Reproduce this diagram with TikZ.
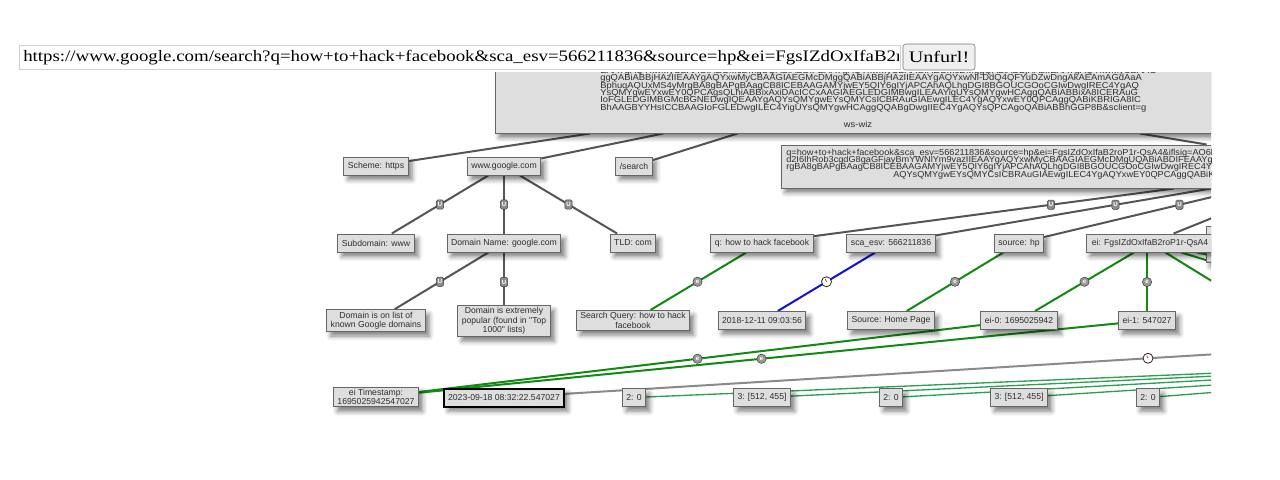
\documentclass[tikz,border=0pt]{standalone}
\usepackage{fontspec}
\setmainfont{Liberation Serif}
\newfontfamily\arialf{Liberation Sans}
\newfontfamily\bigboxf[FakeStretch=1.085]{Liberation Sans}
\newfontfamily\qboxf[FakeStretch=1.06]{Liberation Sans}
\newfontfamily\urlf[FakeStretch=1.18]{Liberation Serif}
\newfontfamily\btnf[FakeStretch=1.26]{Liberation Serif}
\usetikzlibrary{shadows,shadows.blur,calc}
\pgfdeclarelayer{edges}
\pgfsetlayers{edges,main}
\definecolor{nodefill}{HTML}{DEDEDE}
\definecolor{nodeborder}{HTML}{666666}
\definecolor{nodetext}{HTML}{2E2E2E}
\definecolor{edgegray}{HTML}{555555}
\definecolor{edgelight}{HTML}{8A8A8A}
\definecolor{edgegreen}{HTML}{118A11}
\definecolor{edgeblue}{HTML}{1010E0}
\definecolor{thingreen}{HTML}{2E9E55}
\definecolor{btnfill}{HTML}{EFEFEF}
\definecolor{btnborder}{HTML}{767676}
\definecolor{inputborder}{HTML}{D0D0D0}
\newcommand\nodefont{\arialf\fontsize{6.5}{7}\selectfont}
\tikzset{
  nd/.style={draw=nodeborder, line width=0.75pt, fill=nodefill, text=nodetext,
    font=\nodefont, align=center, inner xsep=3pt, inner ysep=1.6pt,
    minimum height=13.5pt,
    blur shadow={shadow xshift=3pt, shadow yshift=-3.5pt, shadow blur radius=3.5pt, shadow opacity=50}},
  sel/.style={draw=black, line width=1.5pt},
  bigtxt/.style={font=\bigboxf\fontsize{6.5}{7}\selectfont, text=nodetext, inner sep=0pt, anchor=base west},
  qtxt/.style={font=\qboxf\fontsize{6.5}{7}\selectfont, text=nodetext, inner sep=0pt, anchor=base west},
  ge/.style={draw=edgegray, line width=1.5pt},
  le/.style={draw=edgelight, line width=1.5pt},
  gne/.style={draw=edgegreen, line width=1.5pt},
  be/.style={draw=edgeblue, line width=1.5pt},
  tge/.style={draw=thingreen, line width=1pt},
  ulab/.style={draw=black!75, fill=black!45, text=white,
    font=\arialf\fontsize{4.5}{4.5}\selectfont\bfseries, rounded corners=1.2pt,
    inner sep=0pt, minimum width=5.5pt, minimum height=7pt},
  elab/.style={circle, draw=black!75, fill=black!40, text=white,
    font=\arialf\fontsize{4.5}{4.5}\selectfont\bfseries, inner sep=0pt, minimum size=7pt},
  clab/.style={circle, draw=black!85, fill=white, inner sep=0pt, minimum size=7.5pt, line width=0.6pt},
  hand/.style={draw=red, line width=0.5pt}
}
\begin{document}
\begin{tikzpicture}[x=0.75pt,y=-0.75pt]
\useasboundingbox (0,0) rectangle (1280,479);

% URL bar
\node[draw=inputborder, fill=white, minimum width=660.75pt, minimum height=18pt,
  anchor=north west, inner sep=0pt] (input) at (19,45) {};
\begin{scope}
\clip (21,46) rectangle (898,68);
\node[anchor=west, font=\urlf\fontsize{12}{14}\selectfont, inner sep=0pt] (url) at (23,57.5)
  {https://www.google.com/search?q=how+to+hack+facebook\&sca\_esv=566211836\&source=hp\&ei=FgsIZdOxIfaB2ro};
\end{scope}
\node[draw=btnborder, fill=btnfill, rounded corners=2pt, minimum width=54pt,
  minimum height=19.5pt, font=\btnf\fontsize{12}{14}\selectfont, inner sep=0pt] (btn) at (939,57) {Unfurl!};

\begin{scope}
\clip (320,72) rectangle (1211,430);
% big boxes
\node[nd, minimum width=571.5pt, minimum height=64.5pt] (big) at (876,90) {};
\node[bigtxt] (bl0) at (600,73.5) {EAAYgAQYxwMyCBAAGIAEGMcDMgUQABiABDIFEAAYgAQYxwMyCBAAGIAEGMcDMggQABiABBjHAzIIEAAYgAQYxwMyCBAAG};
\node[bigtxt] (bl1) at (600,80.5) {ggQABiABBjHAzIIEAAYgAQYxwMyCBAAGIAEGMcDMggQABiABBjHAzIIEAAYgAQYxwNI-DdQ4QFYuDZwDngAkAEAmAGdAaA};
\node[bigtxt] (bl2) at (600,88) {BphuqAQUxMS4yMrgBA8gBAPgBAagCB8ICEBAAGAMYjwEY5QIY6gIYjAPCAhAQLhgDGI8BGOUCGOoCGIwDwgIREC4YgAQ};
\node[bigtxt] (bl3) at (600,95.4) {YsQMYgwEYxwEY0QPCAgsQLhiABBixAxiDAcICCxAAGIAEGLEDGIMBwgILEAAYigUYsQMYgwHCAggQABiABBixA8ICERAuG};
\node[bigtxt] (bl4) at (600,102.8) {IoFGLEDGIMBGMcBGNEDwgIQEAAYgAQYsQMYgwEYsQMYCsICBRAuGIAEwgILEC4YgAQYxwEY0QPCAggQABiKBRIGA8IC};
\node[bigtxt] (bl5) at (600,110.2) {BhAAGBYYHsICCBAAGIoFGLEDwgILEC4YigUYsQMYgwHCAggQQABgDwgIIEC4YgAQYsQPCAgoQABiABBhGGP8B\&sclient=g};
\node[bigtxt, anchor=base] (bl6) at (858,127.5) {ws-wiz};

\node[nd, minimum width=838.5pt, minimum height=32.25pt] (qbox) at (1340,166.5) {};
\node[qtxt] (ql1) at (786,155) {q=how+to+hack+facebook\&sca\_esv=566211836\&source=hp\&ei=FgsIZdOxIfaB2roP1r-QsA4\&iflsig=AO6bgOgAAAAAZQhWJrk};
\node[qtxt] (ql2) at (786,162.4) {d2I6IhRob3cgdG8gaGFjayBmYWNlYm9vazIIEAAYgAQYxwMyCBAAGIAEGMcDMgUQABiABDIFEAAYgAQYxwMyCBAAGIAEGMcD};
\node[qtxt] (ql3) at (786,169.8) {rgBA8gBAPgBAagCB8ICEBAAGAMYjwEY5QIY6gIYjAPCAhAQLhgDGI8BGOUCGOoCGIwDwgIREC4YgAQYsQMYgwEYxwEY0QPC};
\node[qtxt] (ql4) at (893,177.2) {AQYsQMYgwEYsQMYCsICBRAuGIAEwgILEC4YgAQYxwEY0QPCAggQABiKBRIGA8ICBhAAGBYYHsICCBAAGIoFGLEDwgILEC4Y};

% level 1
\node[nd] (scheme) at (376,166) {Scheme: https};
\node[nd] (www) at (504,166) {www.google.com};
\node[nd] (path) at (634,166) {/search};
% level 2
\node[nd] (sub) at (376,243) {Subdomain: www};
\node[nd] (dom) at (504,243) {Domain Name: google.com};
\node[nd] (tld) at (633,243) {TLD: com};
\node[nd] (qq) at (762,243) {q: how to hack facebook};
\node[nd] (sca) at (891,243) {sca\_esv: 566211836};
\node[nd] (src) at (1019,243) {source: hp};
\node[nd, minimum width=103.5pt, minimum height=27pt] (ifl) at (1275,244) {};
\node[nd, minimum width=96pt] (ei) at (1150,243) {ei: FgsIZdOxIfaB2roP1r-QsA4};
% level 3
\node[nd] (known) at (376,320.5) {Domain is on list of\\known Google domains};
\node[nd] (pop) at (504,321) {Domain is extremely\\popular (found in "Top\\1000" lists)};
\node[nd] (sq) at (633,320.5) {Search Query: how to hack\\facebook};
\node[nd] (date) at (762,320.5) {2018-12-11 09:03:56};
\node[nd] (hp) at (891,320.5) {Source: Home Page};
\node[nd] (ei0) at (1019,320.5) {ei-0: 1695025942};
\node[nd] (ei1) at (1147,320.5) {ei-1: 547027};
% level 4
\node[nd] (eits) at (376,397) {ei Timestamp:\\1695025942547027};
\node[nd, sel] (ts) at (504,397.5) {2023-09-18 08:32:22.547027};
\node[nd] (a1) at (634,397.5) {2: 0};
\node[nd] (b1) at (762,397.5) {3: [512, 455]};
\node[nd] (a2) at (891,397.5) {2: 0};
\node[nd] (b2) at (1019,397.5) {3: [512, 455]};
\node[nd] (a3) at (1148,397.5) {2: 0};

% off-canvas ends
\coordinate (eic2) at (1275,320);
\coordinate (eic3) at (1403,320);
\coordinate (eic4) at (1531,320);
\coordinate (tsp) at (1792,319);
\coordinate (far) at (1743,351);

% labels
\node[ulab] (u1) at ($(www)!.5!(sub)$) {U};
\node[ulab] (u2) at ($(www)!.5!(dom)$) {U};
\node[ulab] (u3) at ($(www)!.5!(tld)$) {U};
\node[ulab] (u4) at ($(dom)!.5!(known)$) {U};
\node[ulab] (u5) at ($(dom)!.5!(pop)$) {U};
\node[ulab] (u6) at ($(qbox)!.5!(qq)$) {U};
\node[ulab] (u7) at ($(qbox)!.5!(sca)$) {U};
\node[ulab] (u8) at ($(qbox)!.5!(src)$) {U};
\node[elab] (e1) at ($(qq)!.5!(sq)$) {e};
\node[elab] (e2) at ($(src)!.5!(hp)$) {e};
\node[elab] (e3) at ($(ei)!.5!(ei0)$) {e};
\node[elab] (e4) at ($(ei1)+(0,-38.5)$) {e};
\node[elab] (e5) at ($(ei0)!.5!(eits)$) {e};
\node[elab] (e6) at ($(ei1)!.5!(eits)$) {e};
\node[clab] (c1) at ($(sca)!.5!(date)$) {};
\draw[hand] (c1.center) -- ++(-1.2,-2.6);
\node[clab] (c2) at ($(ts)!.5!(tsp)$) {};
\draw[hand] (c2.center) -- ++(-1.2,-2.6);
\end{scope}

\begin{pgfonlayer}{edges}
\begin{scope}
\clip (320,72) rectangle (1211,430);
\draw[ge] (big) -- (scheme);
\draw[ge] (big) -- (www);
\draw[ge] (big) -- (path);
\draw[ge] (big) -- (qbox);
\draw[ge] (www) -- (sub);
\draw[ge] (www) -- (dom);
\draw[ge] (www) -- (tld);
\draw[ge] (dom) -- (known);
\draw[ge] (dom) -- (pop);
\draw[ge] (qbox) -- (qq);
\draw[ge] (qbox) -- (sca);
\draw[ge] (qbox) -- (src);
\draw[ge] (qbox) -- (ei);
\draw[gne] (qq) -- (sq);
\draw[be] (sca) -- (date);
\draw[gne] (src) -- (hp);
\draw[gne] (ei) -- (ei0);
\draw[gne] (ei1 |- ei.south) -- (ei1);
\draw[gne] (ei) -- (eic2);
\draw[gne] (ei) -- (eic3);
\draw[gne] (ei) -- (eic4);
\draw[gne] (ei0) -- (eits);
\draw[gne] (ei1) -- (eits);
\draw[le] (ts) -- (tsp);
\draw[tge] (a1) -- (far);
\draw[tge] (b1) -- (far);
\draw[tge] (a2) -- (far);
\draw[tge] (b2) -- (far);
\draw[tge] (a3) -- (far);
\end{scope}
\end{pgfonlayer}
\end{tikzpicture}
\end{document}
